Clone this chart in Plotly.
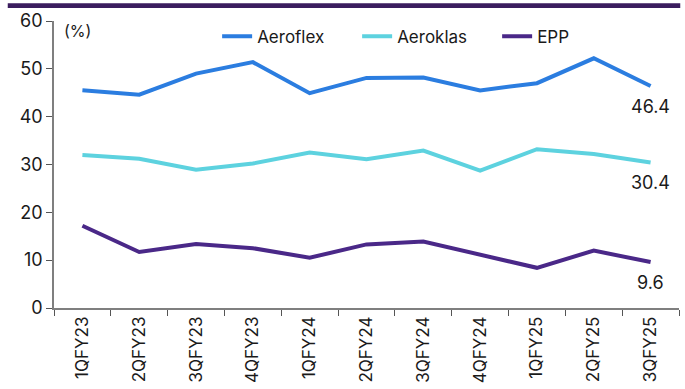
import plotly.graph_objects as go

quarters = ["1QFY23", "2QFY23", "3QFY23", "4QFY23", "1QFY24", "2QFY24",
            "3QFY24", "4QFY24", "1QFY25", "2QFY25", "3QFY25"]
aeroflex = [45.5, 44.6, 49.0, 51.4, 44.9, 48.1, 48.2, 45.5, 47.0, 52.2, 46.4]
aeroklas = [32.0, 31.2, 28.9, 30.2, 32.5, 31.1, 32.9, 28.7, 33.2, 32.2, 30.4]
epp = [17.2, 11.7, 13.4, 12.5, 10.5, 13.3, 13.9, 11.2, 8.4, 12.0, 9.6]

series = [("Aeroflex", aeroflex, "#2b7de0"),
          ("Aeroklas", aeroklas, "#5dd2df"),
          ("EPP", epp, "#4a2888")]

FONT = "Inter, Liberation Sans, Arial, sans-serif"

fig = go.Figure()
for name, vals, color in series:
    fig.add_trace(go.Scatter(
        x=quarters, y=vals, name=name, mode="lines",
        line=dict(color=color, width=4),
        cliponaxis=False,
    ))
    fig.add_annotation(x=quarters[-1], y=vals[-1], text=f"{vals[-1]:.1f}",
                       showarrow=False, yshift=-20, xshift=0,
                       font=dict(family=FONT, size=18, color="#1a1a1a"))

fig.update_layout(
    width=685, height=389,
    margin=dict(l=54, r=6, t=21, b=79),
    plot_bgcolor="white", paper_bgcolor="white",
    font=dict(family=FONT, size=17, color="#1a1a1a"),
    showlegend=True,
    legend=dict(orientation="h", x=0.261, y=0.945, xanchor="left", yanchor="middle",
                font=dict(family=FONT, size=17, color="#1a1a1a"),
                bgcolor="rgba(0,0,0,0)", itemwidth=30, entrywidth=95),
)
fig.update_xaxes(
    type="category", range=[-0.5, 10.5],
    showline=True, linecolor="#7f7f7f", linewidth=1.5,
    ticks="outside", tickson="boundaries", ticklen=6, tickcolor="#555555",
    tickangle=-90, showgrid=False, zeroline=False,
    tickfont=dict(family=FONT, size=17, color="#1a1a1a"),
)
fig.update_yaxes(
    range=[0, 60], dtick=10,
    showline=True, linecolor="#7f7f7f", linewidth=1.5,
    ticks="outside", ticklen=6, tickcolor="#555555",
    showgrid=False, zeroline=False,
    tickfont=dict(family=FONT, size=18, color="#1a1a1a"),
)
fig.add_annotation(text="(%)", xref="paper", yref="paper", x=0.012, y=0.965,
                   xanchor="left", yanchor="middle", showarrow=False,
                   font=dict(family=FONT, size=16, color="#1a1a1a"))
fig.add_shape(type="rect", xref="paper", yref="paper",
              x0=-0.074, x1=1.002, y0=1.045, y1=1.062,
              fillcolor="#3b1d5e", line_width=0, layer="above")

fig.write_html("out.html")
